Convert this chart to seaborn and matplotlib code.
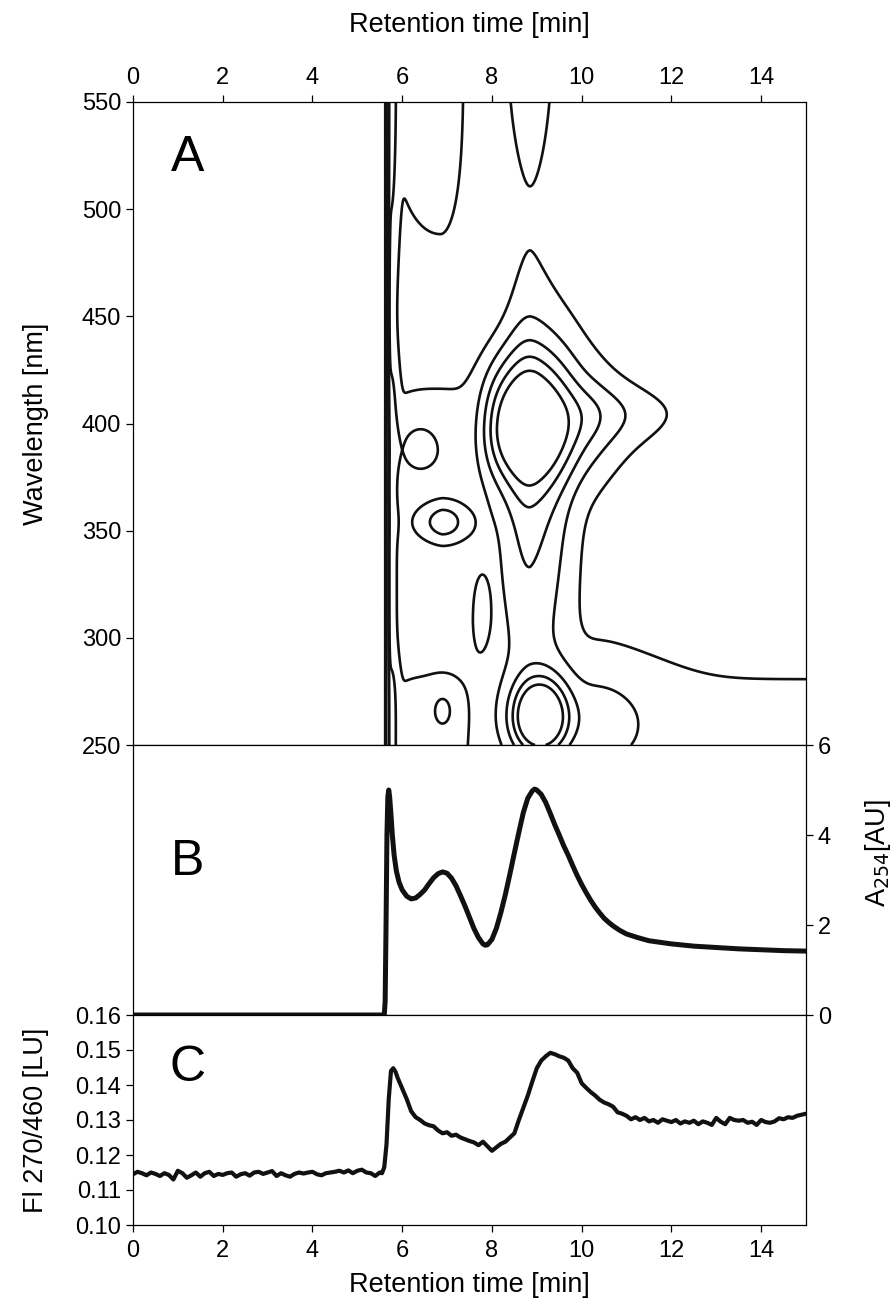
import numpy as np
import pandas as pd
import matplotlib
matplotlib.use("Agg")
import matplotlib.pyplot as plt
import seaborn as sns

# ---------------- data ----------------
# Panel A: 2D absorbance field built from elution x spectral components
comp_amp = [12.0, 1.3, 4.2, 0.9, 2.5, 5.4, 1.6, 2.3, 1.1, 1.3, 0.9, 1.35, 0.9, 1.25, 2.1, 1.7]
comp_t0 = [5.64, 5.64, 8.95, 10.4, 8.85, 9.05, 9.8, 6.9, 6.9, 6.4, 7.75, 7.8, 6.6, 12.5, 8.85, 6.85]
comp_tsl = [0.01, 0.01, 0.95, 0.6, 0.45, 0.41, 0.8, 0.375, 0.2, 0.35, 0.2, 2.6, 1.5, 2.4, 0.4, 1.1]
comp_tsr = [0.03, 0.235, 0.85, 1.7, 0.8, 0.4, 1.2, 0.42, 0.2, 0.35, 0.2, 1.7, 0.95, 100.0, 0.4, 0.5]
comp_tpl = [2, 2, 4, 2, 2, 2, 2, 1.5, 2, 2, 2, 6, 4, 6, 2, 2]
comp_tpr = [2, 4, 1.3, 2, 1.5, 2, 2, 2, 2, 2, 2, 6, 4, 2, 2, 2]
comp_l0 = [400, 400, 398, 405, 400, 263, 262, 354, 266, 388, 310, 330, 250, 250, 580, 600]
comp_lsl = [1e4, 1e4, 18, 10, 75, 11, 20, 7, 7, 8, 15, 150, 100, 100, 48, 110]
comp_lsh = [1e4, 1e4, 22, 10, 52, 12, 18, 7, 7, 9, 20, 92, 36, 46, 48, 110]
comp_lp = [2, 2, 2, 2, 2, 2, 2, 2, 2, 2, 2, 6, 4, 2, 2, 4]
injection_time = 5.625
contour_levels = [1, 2, 3, 4, 5]

# Panel B: absorbance at 254 nm
b_time = [0, 5.6, 5.62, 5.64, 5.66, 5.68, 5.70, 5.72, 5.75, 5.78,
          5.82, 5.87, 5.93, 6.0, 6.1, 6.2, 6.3, 6.4, 6.5, 6.6,
          6.7, 6.8, 6.9, 7.0, 7.1, 7.2, 7.3, 7.4, 7.5, 7.6,
          7.7, 7.8, 7.85, 7.9, 8.0, 8.1, 8.2, 8.3, 8.4, 8.5,
          8.6, 8.7, 8.8, 8.9, 8.95, 9.0, 9.1, 9.2, 9.3, 9.4,
          9.5, 9.6, 9.7, 9.8, 9.9, 10.0, 10.1, 10.2, 10.3, 10.4,
          10.5, 10.6, 10.7, 10.85, 11.0, 11.25, 11.5, 12.0, 12.5, 13.0,
          13.5, 14.0, 14.5, 15.0]
b_value = [0, 0, 0.3, 2.0, 4.0, 4.85, 5.0, 4.85, 4.45, 4.0,
           3.55, 3.2, 2.95, 2.78, 2.64, 2.58, 2.6, 2.68, 2.78, 2.92,
           3.05, 3.14, 3.18, 3.15, 3.04, 2.87, 2.65, 2.42, 2.17, 1.92,
           1.72, 1.58, 1.55, 1.56, 1.68, 1.93, 2.28, 2.68, 3.13, 3.6,
           4.06, 4.5, 4.82, 4.98, 5.02, 5.0, 4.9, 4.72, 4.48, 4.23,
           4.0, 3.76, 3.55, 3.32, 3.1, 2.9, 2.72, 2.55, 2.4, 2.27,
           2.15, 2.06, 1.98, 1.88, 1.8, 1.72, 1.65, 1.58, 1.53, 1.5,
           1.47, 1.45, 1.43, 1.42]

# Panel C: fluorescence 270/460
c_time = ([round(0.1 * i, 2) for i in range(0, 56)] +
          [5.55, 5.6, 5.65, 5.7, 5.75, 5.8, 5.85, 5.9, 6.0] +
          [round(0.1 * i, 2) for i in range(61, 151)])
c_value = [0.1145, 0.1152, 0.1148, 0.1142, 0.1150, 0.1146, 0.1140, 0.1148, 0.1143, 0.1130,
           0.1155, 0.1148, 0.1135, 0.1142, 0.1150, 0.1138, 0.1148, 0.1152, 0.1140, 0.1146,
           0.1143, 0.1148, 0.1150, 0.1138, 0.1145, 0.1148, 0.1141, 0.1150, 0.1152, 0.1146,
           0.1150, 0.1154, 0.1140, 0.1148, 0.1142, 0.1138, 0.1146, 0.1150, 0.1147, 0.1150,
           0.1152, 0.1145, 0.1142, 0.1148, 0.1150, 0.1152, 0.1155, 0.1150, 0.1156, 0.1148,
           0.1155, 0.1158, 0.1150, 0.1148, 0.1140, 0.1150,
           0.1148, 0.1165, 0.1230, 0.1360, 0.1440, 0.1448, 0.1438, 0.1420, 0.1390,
           0.1360, 0.1325, 0.1308, 0.1300, 0.1290, 0.1285, 0.1282, 0.1270, 0.1262, 0.1265,
           0.1255, 0.1258, 0.1250, 0.1245, 0.1240, 0.1236, 0.1228, 0.1238, 0.1225, 0.1212,
           0.1222, 0.1232, 0.1238, 0.1250, 0.1262, 0.1300, 0.1335, 0.1370, 0.1410, 0.1448,
           0.1470, 0.1482, 0.1492, 0.1488, 0.1482, 0.1478, 0.1470, 0.1448, 0.1435, 0.1405,
           0.1392, 0.1380, 0.1370, 0.1358, 0.1350, 0.1345, 0.1338, 0.1322, 0.1318, 0.1312,
           0.1302, 0.1308, 0.1300, 0.1306, 0.1296, 0.1300, 0.1292, 0.1302, 0.1298, 0.1294,
           0.1300, 0.1290, 0.1296, 0.1292, 0.1298, 0.1288, 0.1296, 0.1292, 0.1286, 0.1306,
           0.1295, 0.1288, 0.1306, 0.1300, 0.1298, 0.1300, 0.1292, 0.1295, 0.1286, 0.1300,
           0.1294, 0.1292, 0.1296, 0.1305, 0.1302, 0.1308, 0.1306, 0.1312, 0.1315, 0.1318]

time_ticks = [0, 2, 4, 6, 8, 10, 12, 14]
wl_ticks = [250, 300, 350, 400, 450, 500, 550]
a254_ticks = [0, 2, 4, 6]
fl_ticks = [0.10, 0.11, 0.12, 0.13, 0.14, 0.15, 0.16]

# ---------------- style ----------------
sns.set_theme(style="ticks")
plt.rcParams['font.family'] = ['Liberation Sans', 'DejaVu Sans']
plt.rcParams.update({
    'axes.linewidth': 0.9, 'axes.edgecolor': 'black',
    'xtick.major.size': 5, 'ytick.major.size': 5,
    'xtick.major.width': 0.9, 'ytick.major.width': 0.9,
    'xtick.color': 'black', 'ytick.color': 'black',
    'xtick.labelsize': 17, 'ytick.labelsize': 17,
    'axes.labelsize': 19.5, 'text.color': 'black', 'axes.labelcolor': 'black',
})
INK = '#111111'

FW, FH = 893, 1307
fig = plt.figure(figsize=(FW / 100, FH / 100), dpi=100)
left, width = 133 / FW, 673 / FW
axA = fig.add_axes([left, 1 - 745 / FH, width, 643 / FH])
axB = fig.add_axes([left, 1 - 1015 / FH, width, 270 / FH])
axC = fig.add_axes([left, 1 - 1225 / FH, width, 210 / FH])

# ---------------- panel A ----------------
t = np.linspace(0, 15, 3001)
lam = np.linspace(250, 550, 601)
T, LM = np.meshgrid(t, lam)
Z = np.zeros_like(T)
for a, t0, sl, sr, pl, pr, l0, ll, lh, lp in zip(comp_amp, comp_t0, comp_tsl, comp_tsr,
                                                 comp_tpl, comp_tpr, comp_l0, comp_lsl,
                                                 comp_lsh, comp_lp):
    left_side = T < t0
    dt = np.where(left_side, np.abs(T - t0) / sl, np.abs(T - t0) / sr)
    pt = np.where(left_side, pl, pr)
    dl = np.where(LM < l0, np.abs(LM - l0) / ll, np.abs(LM - l0) / lh)
    Z += a * np.exp(-0.5 * dt ** pt) * np.exp(-0.5 * dl ** lp)
Z *= 0.5 * (1 + np.tanh((T - injection_time) / 0.004))

axA.contour(T, LM, Z, levels=contour_levels, colors=INK, linewidths=1.9)
axA.set_xlim(0, 15)
axA.set_ylim(250, 550)
axA.xaxis.set_ticks_position('top')
axA.xaxis.set_label_position('top')
axA.set_xticks(time_ticks)
axA.set_yticks(wl_ticks)
axA.tick_params(axis='x', pad=4)
axA.set_xlabel('Retention time [min]', va='center', ha='center')
axA.xaxis.set_label_coords(0.5, 1 + (102 - 25) / 643)
axA.set_ylabel('Wavelength [nm]', va='center', ha='center')
axA.yaxis.set_label_coords(-(133 - 36) / 673, 0.5)
axA.text((188 - 133) / 673, (745 - 158) / 643, 'A', transform=axA.transAxes,
         fontsize=36, ha='center', va='center')

# ---------------- panel B ----------------
dfB = pd.DataFrame({'time': b_time, 'A254': b_value})
sns.lineplot(data=dfB, x='time', y='A254', ax=axB, color=INK, linewidth=3.6, sort=False)
axB.set_xlim(0, 15)
axB.set_ylim(0, 6)
axB.set_xticks([])
axB.yaxis.set_ticks_position('right')
axB.yaxis.set_label_position('right')
axB.set_yticks(a254_ticks)
axB.set_xlabel('')
axB.set_ylabel('A$_{254}$[AU]', rotation=90, va='center', ha='center')
axB.yaxis.set_label_coords((878 - 133) / 673, 0.6)
axB.text((188 - 133) / 673, (1015 - 862) / 270, 'B', transform=axB.transAxes,
         fontsize=36, ha='center', va='center')

# ---------------- panel C ----------------
dfC = pd.DataFrame({'time': c_time, 'FL': c_value})
sns.lineplot(data=dfC, x='time', y='FL', ax=axC, color=INK, linewidth=3.0, sort=False)
axC.set_xlim(0, 15)
axC.set_ylim(0.10, 0.16)
axC.set_xticks(time_ticks)
axC.set_yticks(fl_ticks)
axC.set_yticklabels([f'{v:.2f}' for v in fl_ticks])
axC.tick_params(axis='x', pad=6)
axC.set_xlabel('Retention time [min]', va='center', ha='center')
axC.xaxis.set_label_coords(0.5, (1225 - 1285) / 210)
axC.set_ylabel('Fl 270/460 [LU]', va='center', ha='center')
axC.yaxis.set_label_coords(-(133 - 36) / 673, 0.5)
axC.text((188 - 133) / 673, (1225 - 1068) / 210, 'C', transform=axC.transAxes,
         fontsize=36, ha='center', va='center')

for ax in (axA, axB, axC):
    for s in ax.spines.values():
        s.set_visible(True)
        s.set_color('black')

fig.savefig('out.png', dpi=100)
